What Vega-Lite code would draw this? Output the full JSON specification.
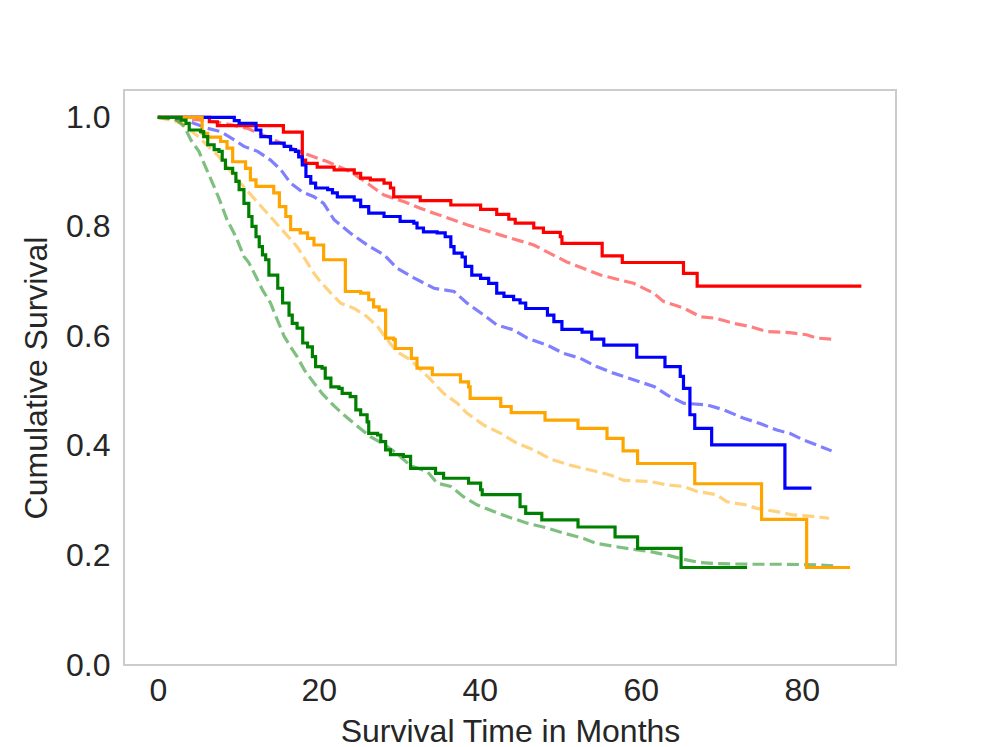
{
  "$schema": "https://vega.github.io/schema/vega-lite/v6.json",
  "autosize": {"type": "none"},
  "padding": {"left": 124, "top": 90, "right": 100, "bottom": 82},
  "width": 772,
  "height": 575,
  "background": "white",
  "config": {
    "view": {"stroke": "#cccccc", "strokeWidth": 2},
    "axis": {
      "labelFont": "Liberation Sans", "titleFont": "Liberation Sans",
      "labelFontSize": 32, "titleFontSize": 32, "titleFontWeight": "normal",
      "labelColor": "#262626", "titleColor": "#262626",
      "ticks": false, "domain": false, "grid": false
    }
  },
  "datasets": {
    "km": [
      {"g":"red","t":0,"s":1.0},{"g":"red","t":6.4,"s":0.992},{"g":"red","t":7.4,"s":0.985},{"g":"red","t":15.6,"s":0.973},{"g":"red","t":17.95,"s":0.922},{"g":"red","t":18.36,"s":0.916},{"g":"red","t":19.8,"s":0.909},{"g":"red","t":21.9,"s":0.904},{"g":"red","t":24.4,"s":0.898},{"g":"red","t":25.2,"s":0.889},{"g":"red","t":26.4,"s":0.886},{"g":"red","t":28.1,"s":0.88},{"g":"red","t":28.9,"s":0.871},{"g":"red","t":29.3,"s":0.855},{"g":"red","t":32.6,"s":0.848},{"g":"red","t":36.4,"s":0.84},{"g":"red","t":40.1,"s":0.832},{"g":"red","t":42.1,"s":0.823},{"g":"red","t":43.6,"s":0.814},{"g":"red","t":44.4,"s":0.807},{"g":"red","t":46.7,"s":0.798},{"g":"red","t":47.9,"s":0.79},{"g":"red","t":50.0,"s":0.782},{"g":"red","t":50.2,"s":0.77},{"g":"red","t":55.2,"s":0.747},{"g":"red","t":57.7,"s":0.735},{"g":"red","t":65.3,"s":0.715},{"g":"red","t":67.0,"s":0.692},{"g":"red","t":87.4,"s":0.692},
      {"g":"blue","t":0,"s":1.0},{"g":"blue","t":9.5,"s":0.994},{"g":"blue","t":10.1,"s":0.989},{"g":"blue","t":12.2,"s":0.977},{"g":"blue","t":12.8,"s":0.965},{"g":"blue","t":14.0,"s":0.953},{"g":"blue","t":15.7,"s":0.947},{"g":"blue","t":16.5,"s":0.941},{"g":"blue","t":17.1,"s":0.938},{"g":"blue","t":17.5,"s":0.928},{"g":"blue","t":17.95,"s":0.913},{"g":"blue","t":18.4,"s":0.892},{"g":"blue","t":19.0,"s":0.88},{"g":"blue","t":19.6,"s":0.871},{"g":"blue","t":21.1,"s":0.868},{"g":"blue","t":21.7,"s":0.862},{"g":"blue","t":22.3,"s":0.855},{"g":"blue","t":24.4,"s":0.849},{"g":"blue","t":25.2,"s":0.837},{"g":"blue","t":26.2,"s":0.825},{"g":"blue","t":28.1,"s":0.819},{"g":"blue","t":30.1,"s":0.81},{"g":"blue","t":31.8,"s":0.807},{"g":"blue","t":32.2,"s":0.798},{"g":"blue","t":33.0,"s":0.791},{"g":"blue","t":34.7,"s":0.789},{"g":"blue","t":35.7,"s":0.782},{"g":"blue","t":36.4,"s":0.764},{"g":"blue","t":36.8,"s":0.752},{"g":"blue","t":37.8,"s":0.745},{"g":"blue","t":38.2,"s":0.728},{"g":"blue","t":39.0,"s":0.712},{"g":"blue","t":40.1,"s":0.706},{"g":"blue","t":41.1,"s":0.697},{"g":"blue","t":42.1,"s":0.679},{"g":"blue","t":43.0,"s":0.673},{"g":"blue","t":44.2,"s":0.667},{"g":"blue","t":45.0,"s":0.661},{"g":"blue","t":45.7,"s":0.651},{"g":"blue","t":48.4,"s":0.639},{"g":"blue","t":49.2,"s":0.627},{"g":"blue","t":50.2,"s":0.613},{"g":"blue","t":52.7,"s":0.608},{"g":"blue","t":53.9,"s":0.595},{"g":"blue","t":55.4,"s":0.584},{"g":"blue","t":59.5,"s":0.562},{"g":"blue","t":63.0,"s":0.545},{"g":"blue","t":64.9,"s":0.527},{"g":"blue","t":65.3,"s":0.505},{"g":"blue","t":66.1,"s":0.457},{"g":"blue","t":66.7,"s":0.432},{"g":"blue","t":68.8,"s":0.402},{"g":"blue","t":77.9,"s":0.323},{"g":"blue","t":81.2,"s":0.323},
      {"g":"orange","t":0,"s":1.0},{"g":"orange","t":5.5,"s":0.971},{"g":"orange","t":6.2,"s":0.964},{"g":"orange","t":7.8,"s":0.956},{"g":"orange","t":8.6,"s":0.944},{"g":"orange","t":9.3,"s":0.919},{"g":"orange","t":10.9,"s":0.907},{"g":"orange","t":11.5,"s":0.886},{"g":"orange","t":12.2,"s":0.874},{"g":"orange","t":14.4,"s":0.862},{"g":"orange","t":15.1,"s":0.837},{"g":"orange","t":15.9,"s":0.819},{"g":"orange","t":16.5,"s":0.795},{"g":"orange","t":17.7,"s":0.789},{"g":"orange","t":18.6,"s":0.779},{"g":"orange","t":19.4,"s":0.767},{"g":"orange","t":20.6,"s":0.74},{"g":"orange","t":23.3,"s":0.682},{"g":"orange","t":25.2,"s":0.679},{"g":"orange","t":26.2,"s":0.667},{"g":"orange","t":26.8,"s":0.654},{"g":"orange","t":27.5,"s":0.648},{"g":"orange","t":28.3,"s":0.597},{"g":"orange","t":29.3,"s":0.594},{"g":"orange","t":29.5,"s":0.578},{"g":"orange","t":31.5,"s":0.56},{"g":"orange","t":32.2,"s":0.542},{"g":"orange","t":34.1,"s":0.53},{"g":"orange","t":37.6,"s":0.517},{"g":"orange","t":38.6,"s":0.508},{"g":"orange","t":38.8,"s":0.487},{"g":"orange","t":42.6,"s":0.472},{"g":"orange","t":43.9,"s":0.461},{"g":"orange","t":48.1,"s":0.447},{"g":"orange","t":52.2,"s":0.432},{"g":"orange","t":55.8,"s":0.414},{"g":"orange","t":57.8,"s":0.391},{"g":"orange","t":59.6,"s":0.368},{"g":"orange","t":66.7,"s":0.331},{"g":"orange","t":75.0,"s":0.266},{"g":"orange","t":80.6,"s":0.178},{"g":"orange","t":86.0,"s":0.178},
      {"g":"green","t":0,"s":1.0},{"g":"green","t":2.9,"s":0.995},{"g":"green","t":3.5,"s":0.989},{"g":"green","t":3.9,"s":0.977},{"g":"green","t":5.3,"s":0.974},{"g":"green","t":5.7,"s":0.965},{"g":"green","t":6.2,"s":0.95},{"g":"green","t":7.0,"s":0.941},{"g":"green","t":7.6,"s":0.938},{"g":"green","t":8.0,"s":0.922},{"g":"green","t":8.4,"s":0.907},{"g":"green","t":9.3,"s":0.898},{"g":"green","t":9.7,"s":0.883},{"g":"green","t":10.1,"s":0.868},{"g":"green","t":10.7,"s":0.843},{"g":"green","t":11.3,"s":0.819},{"g":"green","t":11.7,"s":0.801},{"g":"green","t":12.2,"s":0.782},{"g":"green","t":12.6,"s":0.764},{"g":"green","t":13.0,"s":0.749},{"g":"green","t":13.4,"s":0.74},{"g":"green","t":13.8,"s":0.712},{"g":"green","t":14.9,"s":0.688},{"g":"green","t":15.5,"s":0.661},{"g":"green","t":16.3,"s":0.639},{"g":"green","t":16.7,"s":0.624},{"g":"green","t":17.3,"s":0.615},{"g":"green","t":18.0,"s":0.588},{"g":"green","t":18.6,"s":0.581},{"g":"green","t":19.2,"s":0.563},{"g":"green","t":19.6,"s":0.545},{"g":"green","t":20.4,"s":0.542},{"g":"green","t":20.8,"s":0.524},{"g":"green","t":21.5,"s":0.508},{"g":"green","t":22.5,"s":0.505},{"g":"green","t":22.9,"s":0.496},{"g":"green","t":23.9,"s":0.49},{"g":"green","t":24.6,"s":0.466},{"g":"green","t":25.2,"s":0.457},{"g":"green","t":26.0,"s":0.444},{"g":"green","t":26.2,"s":0.423},{"g":"green","t":27.3,"s":0.42},{"g":"green","t":27.7,"s":0.408},{"g":"green","t":28.3,"s":0.393},{"g":"green","t":28.9,"s":0.384},{"g":"green","t":30.5,"s":0.381},{"g":"green","t":31.4,"s":0.359},{"g":"green","t":34.5,"s":0.35},{"g":"green","t":35.5,"s":0.341},{"g":"green","t":38.6,"s":0.332},{"g":"green","t":40.1,"s":0.32},{"g":"green","t":40.3,"s":0.311},{"g":"green","t":45.0,"s":0.289},{"g":"green","t":45.7,"s":0.277},{"g":"green","t":47.7,"s":0.265},{"g":"green","t":52.2,"s":0.252},{"g":"green","t":56.8,"s":0.234},{"g":"green","t":59.6,"s":0.213},{"g":"green","t":65.0,"s":0.178},{"g":"green","t":73.2,"s":0.178}
    ],
    "pred": [
      {"g":"red","t":0,"s":1.0},{"g":"red","t":3,"s":0.998},{"g":"red","t":6,"s":0.994},{"g":"red","t":8,"s":0.99},{"g":"red","t":11.1,"s":0.98},{"g":"red","t":14.0,"s":0.962},{"g":"red","t":16.1,"s":0.947},{"g":"red","t":18.6,"s":0.932},{"g":"red","t":21.1,"s":0.919},{"g":"red","t":23.9,"s":0.901},{"g":"red","t":26.0,"s":0.88},{"g":"red","t":28.1,"s":0.858},{"g":"red","t":30.6,"s":0.846},{"g":"red","t":32.6,"s":0.834},{"g":"red","t":34.3,"s":0.825},{"g":"red","t":38.4,"s":0.804},{"g":"red","t":42.6,"s":0.785},{"g":"red","t":46.7,"s":0.767},{"g":"red","t":50.8,"s":0.736},{"g":"red","t":55.0,"s":0.712},{"g":"red","t":59.1,"s":0.697},{"g":"red","t":61.6,"s":0.679},{"g":"red","t":62.8,"s":0.664},{"g":"red","t":65.3,"s":0.652},{"g":"red","t":67.4,"s":0.636},{"g":"red","t":69.4,"s":0.633},{"g":"red","t":71.5,"s":0.624},{"g":"red","t":73.6,"s":0.618},{"g":"red","t":75.6,"s":0.609},{"g":"red","t":78.5,"s":0.607},{"g":"red","t":80.6,"s":0.603},{"g":"red","t":81.8,"s":0.597},{"g":"red","t":83.9,"s":0.595},
      {"g":"blue","t":0,"s":1.0},{"g":"blue","t":3,"s":0.997},{"g":"blue","t":6.2,"s":0.98},{"g":"blue","t":7.8,"s":0.974},{"g":"blue","t":9.5,"s":0.959},{"g":"blue","t":10.7,"s":0.947},{"g":"blue","t":12.4,"s":0.938},{"g":"blue","t":14.0,"s":0.922},{"g":"blue","t":15.3,"s":0.904},{"g":"blue","t":16.5,"s":0.88},{"g":"blue","t":17.95,"s":0.864},{"g":"blue","t":19.4,"s":0.855},{"g":"blue","t":20.6,"s":0.843},{"g":"blue","t":21.9,"s":0.813},{"g":"blue","t":23.9,"s":0.789},{"g":"blue","t":26.0,"s":0.767},{"g":"blue","t":28.1,"s":0.749},{"g":"blue","t":29.7,"s":0.725},{"g":"blue","t":31.8,"s":0.707},{"g":"blue","t":34.3,"s":0.688},{"g":"blue","t":36.8,"s":0.682},{"g":"blue","t":38.4,"s":0.661},{"g":"blue","t":40.5,"s":0.639},{"g":"blue","t":42.1,"s":0.621},{"g":"blue","t":44.2,"s":0.612},{"g":"blue","t":45.9,"s":0.597},{"g":"blue","t":48.4,"s":0.584},{"g":"blue","t":50.4,"s":0.569},{"g":"blue","t":52.5,"s":0.56},{"g":"blue","t":54.5,"s":0.545},{"g":"blue","t":56.6,"s":0.533},{"g":"blue","t":59.1,"s":0.521},{"g":"blue","t":61.7,"s":0.508},{"g":"blue","t":63.4,"s":0.492},{"g":"blue","t":65.3,"s":0.478},{"g":"blue","t":68.2,"s":0.475},{"g":"blue","t":70.3,"s":0.466},{"g":"blue","t":72.7,"s":0.451},{"g":"blue","t":74.8,"s":0.441},{"g":"blue","t":76.9,"s":0.429},{"g":"blue","t":78.5,"s":0.423},{"g":"blue","t":80.2,"s":0.411},{"g":"blue","t":81.8,"s":0.402},{"g":"blue","t":83.7,"s":0.391},
      {"g":"orange","t":0,"s":1.0},{"g":"orange","t":3,"s":0.99},{"g":"orange","t":5,"s":0.965},{"g":"orange","t":7.5,"s":0.93},{"g":"orange","t":9.9,"s":0.886},{"g":"orange","t":13.6,"s":0.825},{"g":"orange","t":17.3,"s":0.764},{"g":"orange","t":18.6,"s":0.734},{"g":"orange","t":19.4,"s":0.715},{"g":"orange","t":20.2,"s":0.7},{"g":"orange","t":21.5,"s":0.679},{"g":"orange","t":22.7,"s":0.661},{"g":"orange","t":24.4,"s":0.651},{"g":"orange","t":26.0,"s":0.636},{"g":"orange","t":27.3,"s":0.618},{"g":"orange","t":28.5,"s":0.594},{"g":"orange","t":29.7,"s":0.572},{"g":"orange","t":31.4,"s":0.557},{"g":"orange","t":32.6,"s":0.54},{"g":"orange","t":33.9,"s":0.521},{"g":"orange","t":35.5,"s":0.496},{"g":"orange","t":37.2,"s":0.478},{"g":"orange","t":38.4,"s":0.46},{"g":"orange","t":40.5,"s":0.438},{"g":"orange","t":42.6,"s":0.423},{"g":"orange","t":44.6,"s":0.405},{"g":"orange","t":46.7,"s":0.393},{"g":"orange","t":48.8,"s":0.376},{"g":"orange","t":51.2,"s":0.365},{"g":"orange","t":53.7,"s":0.356},{"g":"orange","t":56.2,"s":0.347},{"g":"orange","t":57.9,"s":0.337},{"g":"orange","t":61.2,"s":0.335},{"g":"orange","t":63.2,"s":0.329},{"g":"orange","t":65.3,"s":0.326},{"g":"orange","t":67.0,"s":0.317},{"g":"orange","t":69.4,"s":0.311},{"g":"orange","t":70.7,"s":0.298},{"g":"orange","t":73.2,"s":0.292},{"g":"orange","t":74.4,"s":0.286},{"g":"orange","t":76.9,"s":0.28},{"g":"orange","t":78.9,"s":0.274},{"g":"orange","t":81.0,"s":0.272},{"g":"orange","t":83.4,"s":0.268},
      {"g":"green","t":0,"s":1.0},{"g":"green","t":2,"s":0.998},{"g":"green","t":2.6,"s":0.992},{"g":"green","t":3.3,"s":0.983},{"g":"green","t":4.1,"s":0.959},{"g":"green","t":5.1,"s":0.938},{"g":"green","t":6.0,"s":0.907},{"g":"green","t":6.8,"s":0.88},{"g":"green","t":7.6,"s":0.852},{"g":"green","t":8.6,"s":0.813},{"g":"green","t":9.7,"s":0.782},{"g":"green","t":10.7,"s":0.746},{"g":"green","t":11.3,"s":0.735},{"g":"green","t":12.2,"s":0.709},{"g":"green","t":13.0,"s":0.685},{"g":"green","t":14.0,"s":0.661},{"g":"green","t":14.6,"s":0.639},{"g":"green","t":15.7,"s":0.6},{"g":"green","t":16.5,"s":0.581},{"g":"green","t":17.3,"s":0.563},{"g":"green","t":18.2,"s":0.539},{"g":"green","t":19.4,"s":0.515},{"g":"green","t":20.4,"s":0.496},{"g":"green","t":21.9,"s":0.473},{"g":"green","t":23.1,"s":0.457},{"g":"green","t":23.9,"s":0.447},{"g":"green","t":24.8,"s":0.436},{"g":"green","t":26.4,"s":0.417},{"g":"green","t":28.1,"s":0.403},{"g":"green","t":29.7,"s":0.386},{"g":"green","t":31.4,"s":0.364},{"g":"green","t":33.5,"s":0.353},{"g":"green","t":34.7,"s":0.332},{"g":"green","t":36.4,"s":0.326},{"g":"green","t":38.0,"s":0.307},{"g":"green","t":39.7,"s":0.292},{"g":"green","t":41.8,"s":0.28},{"g":"green","t":43.4,"s":0.271},{"g":"green","t":45.9,"s":0.259},{"g":"green","t":48.4,"s":0.25},{"g":"green","t":50.4,"s":0.241},{"g":"green","t":52.9,"s":0.231},{"g":"green","t":54.5,"s":0.222},{"g":"green","t":57.0,"s":0.216},{"g":"green","t":59.1,"s":0.211},{"g":"green","t":61.2,"s":0.207},{"g":"green","t":63.2,"s":0.201},{"g":"green","t":65.3,"s":0.193},{"g":"green","t":67.4,"s":0.187},{"g":"green","t":69.4,"s":0.185},{"g":"green","t":73.6,"s":0.184},{"g":"green","t":77.7,"s":0.184},{"g":"green","t":81.8,"s":0.183},{"g":"green","t":83.9,"s":0.181}
    ]
  },
  "encoding": {
    "x": {"field": "t", "type": "quantitative", "scale": {"domain": [-4.2, 91.7], "nice": false, "zero": false},
          "axis": {"values": [0, 20, 40, 60, 80], "title": "Survival Time in Months", "labelPadding": 10, "titlePadding": 10}},
    "y": {"field": "s", "type": "quantitative", "scale": {"domain": [0, 1.05], "nice": false},
          "axis": {"values": [0, 0.2, 0.4, 0.6, 0.8, 1.0], "format": ".1f", "title": "Cumulative Survival", "labelPadding": 14, "titlePadding": 12}},
    "color": {"field": "g", "type": "nominal", "legend": null,
              "scale": {"domain": ["red", "blue", "orange", "green"], "range": ["#ff0000", "#0000ff", "#ffa500", "#008000"]}}
  },
  "layer": [
    {"data": {"name": "pred"}, "mark": {"type": "line", "strokeWidth": 3.2, "strokeDash": [12, 5.2], "opacity": 0.5, "clip": true}},
    {"data": {"name": "km"}, "mark": {"type": "line", "strokeWidth": 3.2, "interpolate": "step-after", "clip": true}}
  ]
}
